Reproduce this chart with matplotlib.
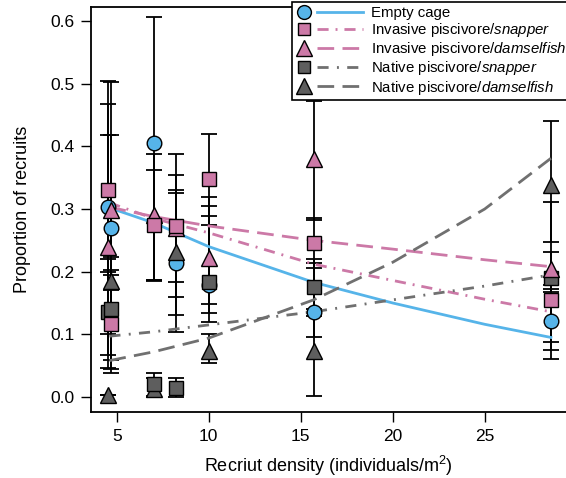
import matplotlib
matplotlib.use("Agg")
import matplotlib.pyplot as plt
import numpy as np
from matplotlib.lines import Line2D
from matplotlib.legend_handler import HandlerBase

plt.rcParams['font.family'] = ['Liberation Sans', 'DejaVu Sans']
plt.rcParams['mathtext.fontset'] = 'custom'
plt.rcParams['mathtext.rm'] = 'Liberation Sans'
plt.rcParams['mathtext.it'] = 'Liberation Sans:italic'

# ---- data ----
x_pts = [4.5, 4.7, 7.0, 8.2, 10.0, 15.7, 28.6]

empty_y = [0.303, 0.269, 0.405, 0.214, 0.178, 0.135, 0.121]
empty_lo = [0.100, 0.038, 0.187, 0.104, 0.119, 0.095, 0.060]
empty_hi = [0.505, 0.503, 0.607, 0.325, 0.289, 0.214, 0.172]

inv_snap_y = [0.330, 0.117, 0.275, 0.273, 0.348, 0.245, 0.155]
inv_snap_lo = [0.200, 0.059, 0.187, 0.159, 0.275, 0.206, 0.075]
inv_snap_hi = [0.468, 0.195, 0.363, 0.388, 0.420, 0.285, 0.178]

inv_dam_y = [0.240, 0.298, 0.290, 0.270, 0.222, 0.380, 0.205]
inv_dam_lo = [0.067, 0.171, 0.185, 0.183, 0.134, 0.283, 0.088]
inv_dam_hi = [0.418, 0.418, 0.388, 0.354, 0.320, 0.473, 0.312]

nat_snap_y = [0.135, 0.140, 0.020, 0.015, 0.184, 0.175, 0.190]
nat_snap_lo = [0.046, 0.044, 0.002, 0.000, 0.148, 0.130, 0.168]
nat_snap_hi = [0.220, 0.203, 0.039, 0.030, 0.305, 0.220, 0.232]

nat_dam_y = [0.003, 0.185, 0.012, 0.232, 0.073, 0.073, 0.339]
nat_dam_lo = [0.003, 0.142, 0.000, 0.131, 0.055, 0.002, 0.248]
nat_dam_hi = [0.003, 0.224, 0.030, 0.330, 0.100, 0.140, 0.440]

fit_x = [4.6, 7.0, 10.0, 15.7, 20.0, 25.0, 28.6]
fit_empty = [0.302, 0.278, 0.240, 0.183, 0.150, 0.116, 0.095]
fit_inv_snap = [0.310, 0.285, 0.262, 0.212, 0.186, 0.156, 0.136]
fit_inv_dam = [0.303, 0.288, 0.273, 0.250, 0.236, 0.219, 0.208]
fit_nat_snap = [0.097, 0.104, 0.115, 0.136, 0.155, 0.177, 0.195]
fit_nat_dam = [0.058, 0.072, 0.094, 0.155, 0.215, 0.300, 0.381]

labels = ['Empty cage',
          r'Invasive piscivore/$\mathit{snapper}$',
          r'Invasive piscivore/$\mathit{damselfish}$',
          r'Native piscivore/$\mathit{snapper}$',
          r'Native piscivore/$\mathit{damselfish}$']

BLUE = '#56B4E9'
PINK = '#CC79A7'
GRAYM = '#5E5E5E'
GRAYL = '#707070'

fig = plt.figure(figsize=(5.66, 4.78), dpi=100)
ax = fig.add_axes([91/566, 1 - 412.3/478, 1 - 91/566, (412.3 - 6.7)/478])

series = {
    'empty': (empty_y, empty_lo, empty_hi, fit_empty, 'o', BLUE, BLUE, None, 10.5),
    'inv_snap': (inv_snap_y, inv_snap_lo, inv_snap_hi, fit_inv_snap, 's', PINK, PINK, (4, 2.5, 0.7, 2.5), 9.5),
    'inv_dam': (inv_dam_y, inv_dam_lo, inv_dam_hi, fit_inv_dam, '^', PINK, PINK, (6, 3), 12),
    'nat_snap': (nat_snap_y, nat_snap_lo, nat_snap_hi, fit_nat_snap, 's', GRAYM, GRAYL, (4, 3, 0.7, 3), 9.5),
    'nat_dam': (nat_dam_y, nat_dam_lo, nat_dam_hi, fit_nat_dam, '^', GRAYM, GRAYL, (6, 3), 12),
}

for key, (y, lo, hi, fit, m, mfc, lc, dsh, ms) in series.items():
    y = np.array(y); lo = np.array(lo); hi = np.array(hi)
    yerr = np.vstack([y - lo, hi - y])
    ax.errorbar(x_pts, y, yerr=yerr, fmt='none', ecolor='black', elinewidth=1.3,
                capsize=5.5, capthick=1.3, zorder=2)

for key, (y, lo, hi, fit, m, mfc, lc, dsh, ms) in series.items():
    ln, = ax.plot(fit_x, fit, color=lc, lw=2.0, zorder=3)
    if dsh is not None:
        ln.set_dashes(dsh)

order = ['empty', 'nat_dam', 'nat_snap', 'inv_dam', 'inv_snap']
for i, key in enumerate(order):
    y, lo, hi, fit, m, mfc, lc, dsh, ms = series[key]
    ax.plot(x_pts, y, linestyle='none', marker=m, ms=ms, mfc=mfc, mec='black',
            mew=1.0, zorder=4 + i)

ax.set_xlim(3.6, 29.42)
ax.set_ylim(-0.0245, 0.623)
ax.set_xticks([5, 10, 15, 20, 25])
ax.set_yticks([0.0, 0.1, 0.2, 0.3, 0.4, 0.5, 0.6])
ax.set_yticklabels(['0.0', '0.1', '0.2', '0.3', '0.4', '0.5', '0.6'])
ax.tick_params(direction='out', length=7, width=1.0, labelsize=12.5, pad=5)
ax.spines['right'].set_visible(False)
for s in ['left', 'bottom', 'top']:
    ax.spines[s].set_linewidth(1.3)

ax.set_xlabel(r'Recriut density (individuals/m$^2$)', fontsize=13, labelpad=7)
ax.set_ylabel('Proportion of recruits', fontsize=13, labelpad=14)


class MarkerLineHandler(HandlerBase):
    def create_artists(self, legend, orig_handle, xdescent, ydescent,
                       width, height, fontsize, trans):
        mk, ln = orig_handle
        yc = height / 2.0 - ydescent
        m = Line2D([width * 0.12 - xdescent], [yc], linestyle='none')
        m.update_from(mk)
        m.set_linestyle('none')
        m.set_transform(trans)
        l = Line2D([width * 0.32 - xdescent, width - xdescent], [yc, yc])
        l.update_from(ln)
        l.set_marker('')
        l.set_transform(trans)
        return [l, m]


handles = []
for key in ['empty', 'inv_snap', 'inv_dam', 'nat_snap', 'nat_dam']:
    y, lo, hi, fit, m, mfc, lc, dsh, ms = series[key]
    mk = Line2D([], [], linestyle='none', marker=m, ms=ms * 0.95, mfc=mfc, mec='black', mew=1.0)
    ln = Line2D([], [], color=lc, lw=2.0)
    if dsh is not None:
        ln.set_dashes(dsh)
    handles.append((mk, ln))

leg = ax.legend(handles, labels, handler_map={tuple: MarkerLineHandler()},
                loc='upper left', bbox_to_anchor=(292/566, 1 - 2/478),
                bbox_transform=fig.transFigure, borderaxespad=0, fontsize=10.8,
                handlelength=4.5, handletextpad=0.5, labelspacing=0.08,
                borderpad=0.25, fancybox=False, framealpha=1, edgecolor='black')
leg.get_frame().set_linewidth(1.2)
leg.set_zorder(20)

fig.savefig('out.png', dpi=100)
